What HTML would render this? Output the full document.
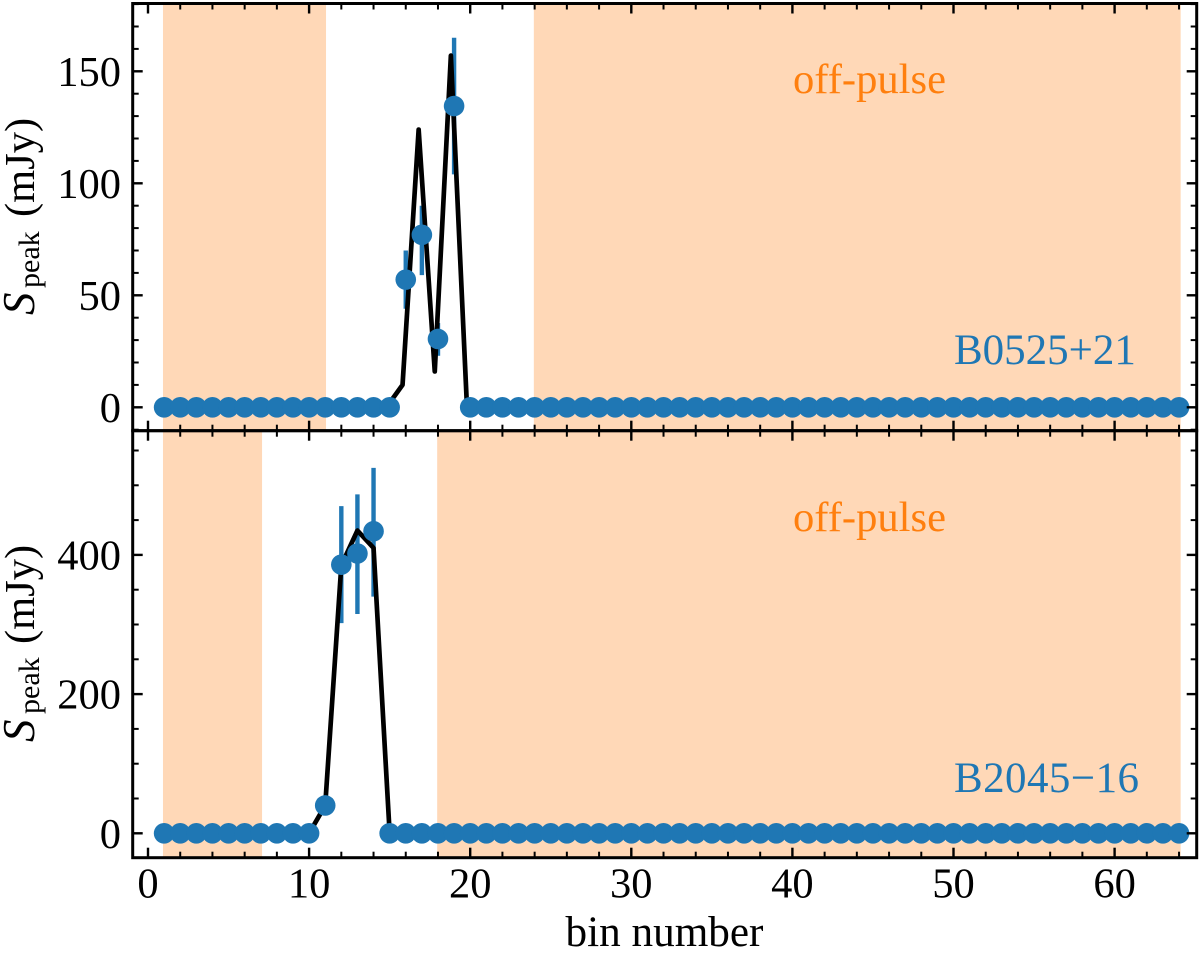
<!DOCTYPE html>
<html lang="en">
<head>
<meta charset="utf-8">
<title>Peak flux per bin</title>
<style>
html,body{margin:0;padding:0;background:#fff;}
svg{display:block;font-family:"Liberation Serif",serif;}
</style>
</head>
<body>
<svg id="chart" xmlns="http://www.w3.org/2000/svg" width="1200" height="959" viewBox="0 0 1200 959">
  <g id="spans"></g>
  <g id="errors"></g>
  <g id="lines"></g>
  <g id="dots"></g>
  <g id="ticks"></g>
  <g id="labels" font-size="42.5" fill="#000"></g>
  <g id="spines"></g>

  <text x="793" y="93" font-size="42.6" fill="#ff7f0e">off-pulse</text>
  <text x="793" y="531" font-size="42.6" fill="#ff7f0e">off-pulse</text>
  <text x="954" y="364" font-size="43" fill="#1f77b4">B0525+21</text>
  <text x="954" y="792" font-size="43" textLength="185" lengthAdjust="spacing" fill="#1f77b4">B2045−16</text>

  <text x="664.5" y="946" font-size="43.2" text-anchor="middle" fill="#000">bin number</text>
  <text transform="translate(34,315) rotate(-90)" font-size="42.5" fill="#000"><tspan x="0" font-style="italic" font-size="45">S</tspan><tspan x="27" dy="5" font-size="30">peak</tspan><tspan x="98" dy="-5">(mJy)</tspan></text>
  <text transform="translate(34,742) rotate(-90)" font-size="42.5" fill="#000"><tspan x="0" font-style="italic" font-size="45">S</tspan><tspan x="28" dy="5" font-size="30">peak</tspan><tspan x="98" dy="-5">(mJy)</tspan></text>
</svg>
<script>
// ---- data ----
const bins = [1,2,3,4,5,6,7,8,9,10,11,12,13,14,15,16,17,18,19,20,21,22,23,24,25,26,27,28,29,30,31,32,33,34,35,36,37,38,39,40,41,42,43,44,45,46,47,48,49,50,51,52,53,54,55,56,57,58,59,60,61,62,63,64];

const topPoints = [0,0,0,0,0,0,0,0,0,0,0,0,0,0,0,57,77,30.5,134.5,0,0,0,0,0,0,0,0,0,0,0,0,0,0,0,0,0,0,0,0,0,0,0,0,0,0,0,0,0,0,0,0,0,0,0,0,0,0,0,0,0,0,0,0,0];
const topLine = [0,0,0,0,0,0,0,0,0,0,0,0,0,0,0,10,124,16,157,0,0,0,0,0,0,0,0,0,0,0,0,0,0,0,0,0,0,0,0,0,0,0,0,0,0,0,0,0,0,0,0,0,0,0,0,0,0,0,0,0,0,0,0,0];
const topLineBinShift = -0.2;
const topErrBins = [16,17,18,19];
const topErrLow = [44,59,23,104];
const topErrHigh = [70,90,37.6,165];
const topOffPulse = [[0.93,11.05],[23.95,64.1]];

const bottomPoints = [0,0,0,0,0,0,0,0,0,0,40,386,402,434,0,0,0,0,0,0,0,0,0,0,0,0,0,0,0,0,0,0,0,0,0,0,0,0,0,0,0,0,0,0,0,0,0,0,0,0,0,0,0,0,0,0,0,0,0,0,0,0,0,0];
const bottomLine = [0,0,0,0,0,0,0,0,0,0,40,385,435,410,0,0,0,0,0,0,0,0,0,0,0,0,0,0,0,0,0,0,0,0,0,0,0,0,0,0,0,0,0,0,0,0,0,0,0,0,0,0,0,0,0,0,0,0,0,0,0,0,0,0];
const bottomLineBinShift = 0;
const bottomErrBins = [12,13,14];
const bottomErrLow = [302,315,340];
const bottomErrHigh = [470,487,525];
const bottomOffPulse = [[0.93,7.08],[17.95,64.1]];

const xMajorTicks = [0,10,20,30,40,50,60];
const xMinorTicks = [2,4,6,8,12,14,16,18,22,24,26,28,32,34,36,38,42,44,46,48,52,54,56,58,62,64,66];
const topYMajorTicks = [0,50,100,150];
const topYMinorTicks = [-10,10,20,30,40,60,70,80,90,110,120,130,140,160,170,180];
const bottomYMajorTicks = [0,200,400];
const bottomYMinorTicks = [50,100,150,250,300,350,450,500,550];

// ---- geometry ----
const L = 132.7, R = 1196.7, T = 3.5, M = 430.7, B = 857.7;
const NS = 'http://www.w3.org/2000/svg';
function xAxis(v){ return 148 + 16.11 * v; }
function yTop(v){ return 407.3 - 2.24 * v; }
function yBottom(v){ return 833.3 - 0.696 * v; }

function make(tag, parent, attrs){
  const el = document.createElementNS(NS, tag);
  for (const k in attrs) el.setAttribute(k, attrs[k]);
  parent.appendChild(el);
  return el;
}
const gSpans = document.getElementById('spans');
const gErrors = document.getElementById('errors');
const gLines = document.getElementById('lines');
const gDots = document.getElementById('dots');
const gTicks = document.getElementById('ticks');
const gLabels = document.getElementById('labels');
const gSpines = document.getElementById('spines');

function drawPanel(p){
  p.spans.forEach(function(s){
    const r = make('rect', gSpans, {x:xAxis(s[0]), y:p.top, width:xAxis(s[1])-xAxis(s[0]), height:p.bot-p.top, fill:'#ffd8b7'});
    
    
  });
  p.errBins.forEach(function(b,i){
    const e = make('line', gErrors, {x1:xAxis(b), x2:xAxis(b), y1:p.y(p.errLow[i]), y2:p.y(p.errHigh[i]), stroke:'#1f77b4', 'stroke-width':4.4});
    
    
  });
  const pts = bins.map(function(b,i){ return xAxis(b + p.shift).toFixed(2) + ',' + p.y(p.line[i]).toFixed(2); }).join(' ');
  const pl = make('polyline', gLines, {points:pts, fill:'none', stroke:'#000', 'stroke-width':4.7, 'stroke-linejoin':'round', 'stroke-linecap':'round'});
  
  
  bins.forEach(function(b,i){
    const c = make('circle', gDots, {cx:xAxis(b), cy:p.y(p.points[i]), r:10.3, fill:'#1f77b4'});
    
    
  });
  // x ticks: inward on the panel's top and bottom edges
  [[xMajorTicks,10,2.4],[xMinorTicks,6,2]].forEach(function(set){
    set[0].forEach(function(v){
      const x = xAxis(v);
      const a = make('line', gTicks, {x1:x, x2:x, y1:p.top, y2:p.top+set[1], stroke:'#000', 'stroke-width':set[2]});
      
      
      const d = make('line', gTicks, {x1:x, x2:x, y1:p.bot, y2:p.bot-set[1], stroke:'#000', 'stroke-width':set[2]});
      
      
    });
  });
  // y ticks: inward on left and right edges
  [[p.yMajor,10,2.4],[p.yMinor,6,2]].forEach(function(set){
    set[0].forEach(function(v){
      const y = p.y(v);
      const a = make('line', gTicks, {x1:L, x2:L+set[1], y1:y, y2:y, stroke:'#000', 'stroke-width':set[2]});
      
      
      const d = make('line', gTicks, {x1:R, x2:R-set[1], y1:y, y2:y, stroke:'#000', 'stroke-width':set[2]});
      
      
    });
  });
  p.yMajor.forEach(function(v){
    const t = make('text', gLabels, {x:121, y:p.y(v)+14.5, 'text-anchor':'end'});
    
    
    t.textContent = String(v);
  });
}

drawPanel({top:T, bot:M, y:yTop, spans:topOffPulse, errBins:topErrBins, errLow:topErrLow, errHigh:topErrHigh, line:topLine, shift:topLineBinShift, points:topPoints, yMajor:topYMajorTicks, yMinor:topYMinorTicks});
drawPanel({top:M, bot:B, y:yBottom, spans:bottomOffPulse, errBins:bottomErrBins, errLow:bottomErrLow, errHigh:bottomErrHigh, line:bottomLine, shift:bottomLineBinShift, points:bottomPoints, yMajor:bottomYMajorTicks, yMinor:bottomYMinorTicks});

xMajorTicks.forEach(function(v){
  const t = make('text', gLabels, {x:xAxis(v), y:897.5, 'text-anchor':'middle'});
  
  
  t.textContent = String(v);
});

[[T,M],[M,B]].forEach(function(f){
  const r = make('rect', gSpines, {x:L, y:f[0], width:R-L, height:f[1]-f[0], fill:'none', stroke:'#000', 'stroke-width':3});
  
  
});
</script>
</body>
</html>
